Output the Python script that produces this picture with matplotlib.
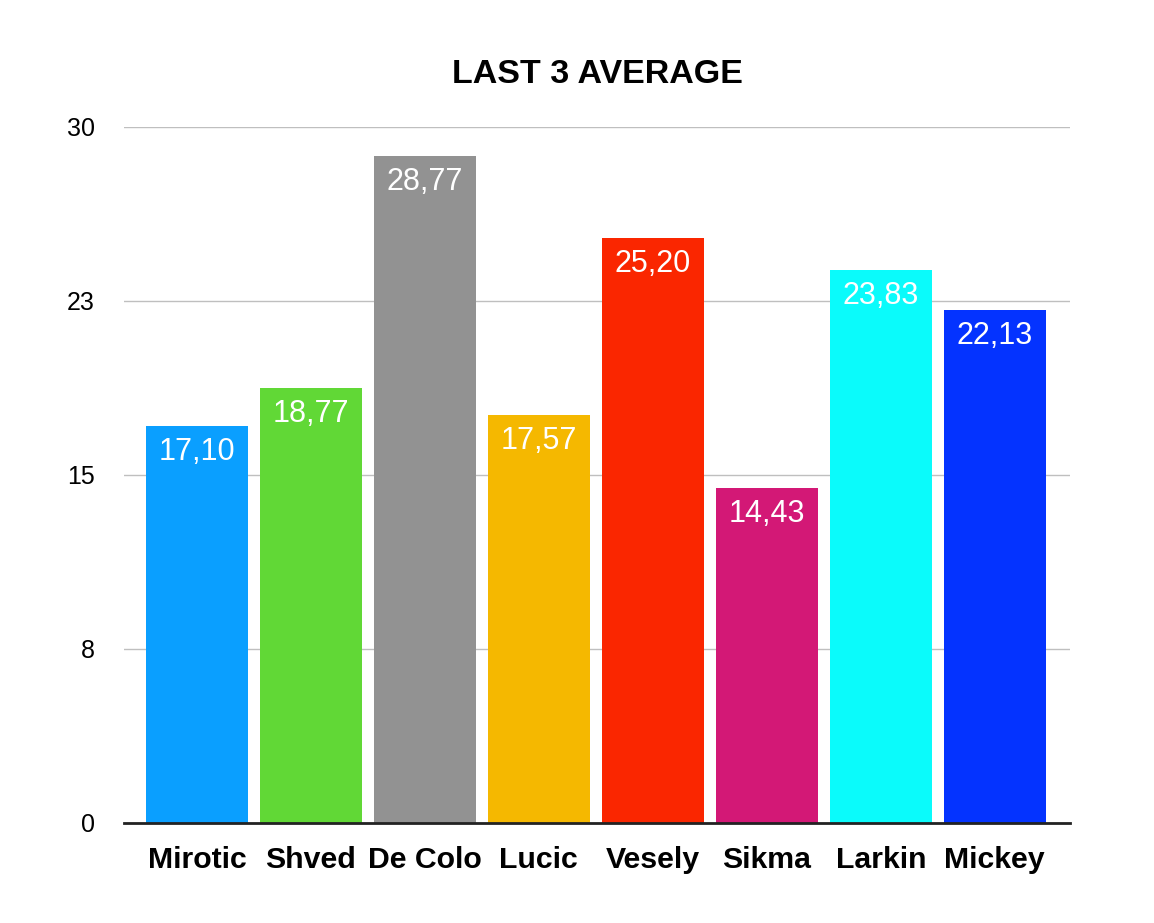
import matplotlib
matplotlib.use('Agg')
import matplotlib.pyplot as plt

players = ['Mirotic', 'Shved', 'De Colo', 'Lucic', 'Vesely', 'Sikma', 'Larkin', 'Mickey']
averages = [17.10, 18.77, 28.77, 17.57, 25.20, 14.43, 23.83, 22.13]
colors = ['#0A9FFF', '#61D836', '#929292', '#F5B800', '#FA2600', '#D31876', '#0AFBFB', '#0433FF']
y_ticks = [0, 7.5, 15, 22.5, 30]
y_tick_labels = ['0', '8', '15', '23', '30']

plt.rcParams['font.family'] = ['Liberation Sans', 'DejaVu Sans']

fig = plt.figure(figsize=(11.54, 9.23), dpi=100)
ax = fig.add_axes([124 / 1154, 1 - 823 / 923, 946 / 1154, 696 / 923])

x = list(range(len(players)))
bars = ax.bar(x, averages, width=0.895, color=colors, zorder=2)

# value labels sit inside the top of each bar
for xi, v in zip(x, averages):
    ax.annotate(f'{v:.2f}'.replace('.', ','), xy=(xi, v), xytext=(0, -24.5),
                textcoords='offset points', ha='center', va='baseline',
                color='white', fontsize=22, zorder=3)

ax.set_xlim(-0.64, 7.66)
ax.set_ylim(0, 30)
ax.set_yticks(y_ticks)
ax.set_yticklabels(y_tick_labels, fontsize=18)
ax.set_xticks(x)
ax.set_xticklabels(players, fontsize=21.8, fontweight='bold')
ax.tick_params(axis='y', length=0, pad=21)
ax.tick_params(axis='x', length=0, pad=16.5)
ax.yaxis.grid(True, color='#BFBFBF', linewidth=1, zorder=0)
ax.set_axisbelow(True)

for side in ['left', 'right', 'top']:
    ax.spines[side].set_visible(False)
ax.spines['bottom'].set_color('#222222')
ax.spines['bottom'].set_linewidth(2)
ax.spines['bottom'].set_zorder(4)

ax.set_title('LAST 3 AVERAGE', fontsize=24.5, fontweight='bold', pad=32)

fig.savefig('out.png', dpi=100)
